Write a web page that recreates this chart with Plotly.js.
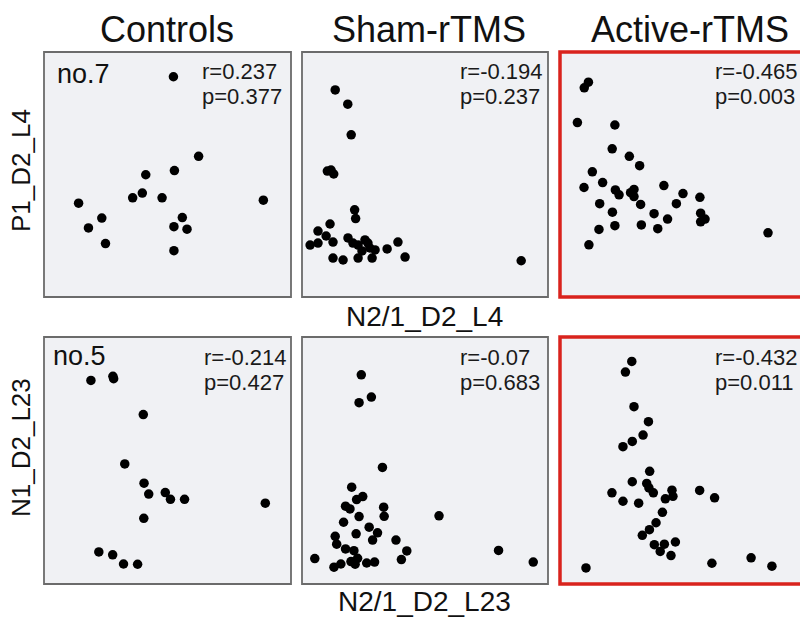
<!DOCTYPE html>
<html>
<head>
<meta charset="utf-8">
<script src="https://cdn.plot.ly/plotly-3.0.1.min.js"></script>
<style>html,body{margin:0;padding:0;background:#fff;overflow:hidden}</style>
</head>
<body>
<div id="chart" style="width:800px;height:618px"></div>
<script>
// ---- Data (arbitrary units, 0-100 per panel) ----
const groups = ["Controls", "Sham-rTMS", "Active-rTMS"];
const rowLabels = ["P1_D2_L4", "N1_D2_L23"];
const xLabels = ["N2/1_D2_L4", "N2/1_D2_L23"];
const panelTags = ["no.7", "no.5"];
const rVals = [["0.237", "-0.194", "-0.465"], ["-0.214", "-0.07", "-0.432"]];
const pVals = [["0.377", "0.237", "0.003"], ["0.427", "0.683", "0.011"]];

// Row 1 (L4)
const ctrlL4X = [52.4, 62.6, 52.8, 41.2, 39.8, 35.9, 47.8, 88.8, 14.0, 23.4, 56.0, 18.0, 52.6, 57.9, 24.9, 52.6];
const ctrlL4Y = [89.9, 57.4, 51.6, 49.9, 42.4, 40.5, 40.5, 39.5, 38.3, 32.2, 32.4, 28.2, 28.7, 27.7, 21.8, 18.9];

const shamL4X = [13.5, 18.6, 20.0, 10.3, 11.8, 12.9, 21.4, 21.8, 11.4, 6.5, 9.8, 6.5, 12.6, 3.3, 18.7, 20.7, 22.8, 25.6, 26.8, 27.6, 29.7, 34.6, 39.0, 12.6, 16.7, 22.8, 28.5, 41.9, 24.4, 89.1];
const shamL4Y = [84.5, 78.7, 66.2, 51.4, 51.8, 50.2, 35.6, 32.0, 29.8, 26.9, 24.9, 22.0, 22.4, 21.2, 24.1, 22.0, 21.2, 23.3, 22.0, 20.0, 19.2, 19.6, 22.4, 15.9, 15.1, 15.9, 15.9, 16.3, 18.8, 14.8];

const actL4X = [11.6, 9.9, 7.1, 22.4, 21.3, 28.3, 32.5, 13.2, 17.4, 9.8, 22.6, 24.1, 28.8, 30.2, 30.2, 42.4, 50.2, 16.2, 32.9, 47.5, 57.1, 21.4, 38.4, 43.9, 57.4, 59.2, 57.4, 15.9, 22.4, 33.2, 39.9, 11.8, 84.9];
const actL4Y = [87.7, 85.4, 71.2, 70.2, 60.5, 57.4, 53.6, 51.1, 46.7, 44.7, 43.7, 41.7, 42.6, 43.9, 41.0, 45.5, 42.2, 38.1, 37.8, 38.1, 40.7, 34.6, 34.0, 31.8, 34.2, 31.8, 30.7, 27.6, 29.1, 29.4, 27.9, 21.3, 26.2];

// Row 2 (L23)
const ctrlL23X = [19.0, 27.9, 28.2, 40.2, 32.7, 40.5, 42.4, 49.1, 51.2, 56.9, 89.6, 40.4, 22.2, 27.8, 32.2, 37.9];
const ctrlL23Y = [82.4, 84.1, 83.1, 68.6, 48.6, 40.8, 36.4, 37.0, 34.3, 34.3, 32.7, 26.6, 13.0, 11.8, 8.1, 8.0];

const shamL23X = [24.1, 28.2, 23.2, 32.7, 20.2, 24.7, 22.2, 17.7, 19.5, 33.2, 33.4, 23.2, 55.7, 16.9, 27.3, 30.7, 22.0, 13.5, 28.7, 38.2, 14.1, 17.7, 21.1, 42.6, 79.9, 5.2, 22.6, 19.9, 21.6, 26.3, 29.5, 40.4, 15.8, 13.0, 94.0];
const shamL23Y = [84.7, 75.7, 73.4, 47.2, 39.2, 35.4, 34.2, 31.5, 30.4, 31.1, 27.4, 27.3, 27.6, 25.0, 23.0, 20.7, 20.3, 19.3, 17.8, 17.8, 16.1, 14.2, 13.5, 13.4, 13.6, 10.3, 10.4, 9.1, 8.0, 8.5, 8.9, 9.9, 8.1, 6.8, 8.9];

const actL23X = [29.3, 26.7, 30.2, 36.1, 33.9, 29.5, 25.7, 36.6, 29.5, 35.4, 36.3, 38.1, 21.2, 45.7, 46.1, 43.0, 57.0, 63.1, 25.7, 32.1, 41.8, 39.2, 36.5, 33.6, 38.5, 42.6, 47.1, 40.9, 45.3, 10.6, 62.0, 78.0, 86.5];
const actL23Y = [90.1, 85.8, 71.8, 65.7, 60.3, 57.7, 55.6, 45.6, 41.4, 40.7, 38.9, 36.9, 36.9, 38.0, 35.5, 34.5, 37.9, 34.9, 33.5, 32.7, 29.0, 24.8, 22.0, 19.7, 15.9, 16.1, 17.0, 13.2, 11.5, 6.5, 8.4, 10.6, 7.2];

const seriesX = [[ctrlL4X, shamL4X, actL4X], [ctrlL23X, shamL23X, actL23X]];
const seriesY = [[ctrlL4Y, shamL4Y, actL4Y], [ctrlL23Y, shamL23Y, actL23Y]];

// ---- Layout geometry (pixels) ----
const W = 800, H = 618;
const colPx = [[44, 291], [302, 548], [560, 805]];
const rowPx = [[52, 297], [337, 584]];
const fx = p => p / W;
const fy = p => 1 - p / H;
const FONT = '"Liberation Sans", Arial, Helvetica, sans-serif';

const data = [];
const layout = {
  width: W, height: H,
  margin: {l: 0, r: 0, t: 0, b: 0},
  paper_bgcolor: '#ffffff',
  plot_bgcolor: '#f0f1f4',
  showlegend: false,
  font: {family: FONT, color: '#111'},
  annotations: [],
  shapes: []
};

let k = 0;
for (let r = 0; r < 2; r++) {
  for (let c = 0; c < 3; c++) {
    k++;
    const xa = 'xaxis' + (k === 1 ? '' : k), ya = 'yaxis' + (k === 1 ? '' : k);
    const xr = 'x' + (k === 1 ? '' : k), yr = 'y' + (k === 1 ? '' : k);
    const x0 = colPx[c][0], x1 = Math.min(colPx[c][1], W);
    const full = colPx[c][1] - colPx[c][0];
    const xmax = 100 * (x1 - x0) / full;
    layout[xa] = {domain: [fx(x0), fx(x1)], range: [0, xmax], showgrid: false, zeroline: false,
      showticklabels: false, ticks: '', showline: false, fixedrange: true, anchor: yr};
    layout[ya] = {domain: [fy(rowPx[r][1]), fy(rowPx[r][0])], range: [0, 100], showgrid: false, zeroline: false,
      showticklabels: false, ticks: '', showline: false, fixedrange: true, anchor: xr};
    data.push({
      type: 'scatter', mode: 'markers', x: seriesX[r][c], y: seriesY[r][c], xaxis: xr, yaxis: yr,
      marker: {color: '#000', size: 9.5, line: {width: 0}}, hoverinfo: 'skip'
    });
    // border
    const active = c === 2;
    layout.shapes.push({type: 'rect', xref: 'paper', yref: 'paper', layer: 'above',
      x0: fx(colPx[c][0]), x1: fx(colPx[c][1]), y0: fy(rowPx[r][1]), y1: fy(rowPx[r][0]),
      line: {color: active ? '#d9231d' : '#6b6b6b', width: active ? 3.5 : 1.8}, fillcolor: 'rgba(0,0,0,0)'});
    // stats
    const sx = [200, 458, 713][c] + (r === 1 && c === 0 ? 2 : 0);
    const sy1 = r === 0 ? 72 : 357, sy2 = r === 0 ? 97 : 382;
    layout.annotations.push({xref: 'paper', yref: 'paper', x: fx(sx), y: fy(sy1), xanchor: 'left', yanchor: 'middle',
      text: 'r=' + rVals[r][c], showarrow: false, font: {size: 22, color: '#1a1a1a', family: FONT}});
    layout.annotations.push({xref: 'paper', yref: 'paper', x: fx(sx), y: fy(sy2), xanchor: 'left', yanchor: 'middle',
      text: 'p=' + pVals[r][c], showarrow: false, font: {size: 22, color: '#1a1a1a', family: FONT}});
  }
}

// column titles
const titleCx = [167, 429, 690];
groups.forEach((g, i) => layout.annotations.push({xref: 'paper', yref: 'paper', x: fx(titleCx[i]), y: fy(29),
  xanchor: 'center', yanchor: 'middle', text: g, showarrow: false, font: {size: 36, color: '#111', family: FONT}}));

// row labels
const rowCy = [171, 448];
rowLabels.forEach((t, i) => layout.annotations.push({xref: 'paper', yref: 'paper', x: fx(21), y: fy(rowCy[i]),
  xanchor: 'center', yanchor: 'middle', textangle: -90, text: t, showarrow: false, font: {size: 26, color: '#111', family: FONT}}));

// x labels
const xlabCy = [316, 601];
xLabels.forEach((t, i) => layout.annotations.push({xref: 'paper', yref: 'paper', x: fx(424), y: fy(xlabCy[i]),
  xanchor: 'center', yanchor: 'middle', text: t, showarrow: false, font: {size: 28, color: '#111', family: FONT}}));

// panel tags
const tagCy = [74, 356];
panelTags.forEach((t, i) => layout.annotations.push({xref: 'paper', yref: 'paper', x: fx(i === 0 ? 55 : 51), y: fy(tagCy[i]),
  xanchor: 'left', yanchor: 'middle', text: t, showarrow: false, font: {size: 27, color: '#111', family: FONT}}));

Plotly.newPlot('chart', data, layout, {displayModeBar: false, staticPlot: true});
</script>
</body>
</html>
